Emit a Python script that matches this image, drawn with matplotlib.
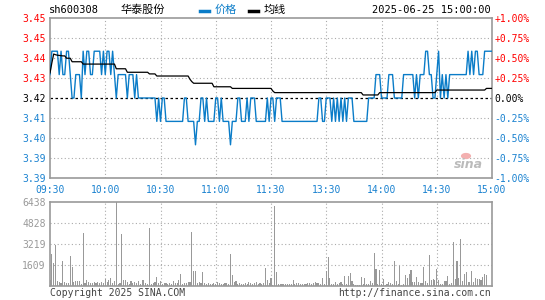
import matplotlib
matplotlib.use("Agg")
from matplotlib import pyplot as plt
import numpy as np

plt.rcParams['font.family'] = ['DejaVu Sans Mono', 'Noto Sans CJK SC']

# ---- data ----
code = "sh600308"
name = "华泰股份"
stamp = "2025-06-25 15:00:00"
pre_close = 3.42
time_labels = ["09:30", "10:00", "10:30", "11:00", "11:30", "13:30", "14:00", "14:30", "15:00"]
vol_ticks = [1609, 3219, 4828, 6438]

price = [
    3.43, 3.44, 3.44, 3.44, 3.44, 3.43, 3.44, 3.43, 3.43, 3.44,
    3.44, 3.43, 3.42, 3.42, 3.43, 3.43, 3.43, 3.42, 3.44, 3.43,
    3.44, 3.44, 3.43, 3.43, 3.44, 3.44, 3.44, 3.44, 3.43, 3.44,
    3.43, 3.44, 3.44, 3.43, 3.44, 3.43, 3.42, 3.43, 3.43, 3.43,
    3.43, 3.43, 3.42, 3.43, 3.43, 3.43, 3.42, 3.43, 3.42, 3.42,
    3.42, 3.42, 3.42, 3.42, 3.42, 3.42, 3.42, 3.42, 3.41, 3.42,
    3.41, 3.42, 3.42, 3.41, 3.41, 3.41, 3.41, 3.41, 3.41, 3.41,
    3.41, 3.41, 3.41, 3.42, 3.42, 3.41, 3.41, 3.41, 3.41, 3.40,
    3.41, 3.41, 3.42, 3.42, 3.41, 3.42, 3.41, 3.41, 3.41, 3.41,
    3.42, 3.42, 3.41, 3.42, 3.41, 3.41, 3.41, 3.41, 3.40, 3.41,
    3.41, 3.41, 3.42, 3.42, 3.41, 3.41, 3.41, 3.42, 3.41, 3.42,
    3.42, 3.42, 3.41, 3.41, 3.41, 3.41, 3.41, 3.41, 3.42, 3.41,
    3.42, 3.42, 3.41, 3.42, 3.42, 3.42, 3.41, 3.41, 3.41, 3.41,
    3.41, 3.41, 3.41, 3.41, 3.41, 3.41, 3.41, 3.41, 3.41, 3.41,
    3.41, 3.41, 3.41, 3.41, 3.41, 3.41, 3.42, 3.42, 3.41, 3.41,
    3.42, 3.42, 3.42, 3.41, 3.42, 3.41, 3.42, 3.41, 3.42, 3.41,
    3.42, 3.41, 3.42, 3.42, 3.42, 3.41, 3.41, 3.41, 3.41, 3.41,
    3.41, 3.41, 3.41, 3.42, 3.42, 3.42, 3.42, 3.43, 3.43, 3.43,
    3.42, 3.42, 3.42, 3.42, 3.43, 3.43, 3.43, 3.42, 3.42, 3.42,
    3.42, 3.42, 3.43, 3.43, 3.43, 3.43, 3.43, 3.43, 3.42, 3.43,
    3.42, 3.43, 3.43, 3.43, 3.44, 3.44, 3.43, 3.43, 3.42, 3.42,
    3.43, 3.44, 3.42, 3.43, 3.42, 3.43, 3.42, 3.43, 3.43, 3.43,
    3.43, 3.43, 3.43, 3.43, 3.43, 3.43, 3.43, 3.44, 3.43, 3.44,
    3.43, 3.44, 3.44, 3.43, 3.43, 3.43, 3.44, 3.44, 3.44, 3.44,
    3.44,
]

# average line, read as flat steps
avg = ([3.4307, 3.4350, 3.4388, 3.4385, 3.4383, 3.4382, 3.4381, 3.4380, 3.4380]
       + [3.4370] * 3 + [3.4355] * 6 + [3.4345] * 18 + [3.4325] * 6
       + [3.4310] * 12 + [3.4303] * 4 + [3.4294] * 18 + [3.4280, 3.4270]
       + [3.4263] * 11 + [3.4248] * 10 + [3.4241] * 22 + [3.4230]
       + [3.4223] * 48 + [3.4213] * 9 + [3.4223] * 31 + [3.4234] * 27
       + [3.4241] * 4)

volume = [
    458, 2443, 1781, 3130, 382, 305, 204, 1908, 331, 254,
    254, 2290, 1450, 305, 356, 407, 407, 153, 4070, 204,
    458, 305, 229, 254, 305, 204, 331, 204, 331, 254,
    509, 331, 458, 636, 254, 407, 6438, 153, 204, 3995,
    458, 458, 331, 178, 382, 204, 305, 229, 382, 153,
    458, 458, 204, 127, 4400, 178, 254, 305, 660, 254,
    382, 153, 229, 204, 153, 204, 153, 356, 204, 254,
    458, 916, 153, 204, 254, 331, 305, 4120, 1145, 1145,
    254, 305, 204, 1070, 204, 153, 229, 153, 153, 204,
    153, 331, 204, 153, 153, 254, 204, 153, 2443, 840,
    305, 382, 150, 200, 130, 180, 250, 150, 300, 200,
    160, 230, 280, 150, 200, 180, 250, 1375, 458, 200,
    640, 100, 6107, 1070, 150, 130, 120, 130, 140, 150,
    120, 130, 458, 150, 250, 200, 150, 160, 150, 150,
    230, 230, 150, 200, 280, 200, 200, 150, 610, 150,
    1170, 2214, 610, 150, 150, 280, 150, 200, 280, 150,
    763, 150, 763, 992, 350, 150, 100, 100, 100, 687,
    150, 610, 150, 150, 350, 200, 2519, 1298, 150, 1221,
    150, 560, 100, 150, 300, 200, 150, 1908, 350, 150,
    1527, 100, 150, 865, 610, 916, 1221, 300, 300, 712,
    300, 200, 200, 1450, 350, 200, 2366, 458, 509, 458,
    1298, 458, 150, 150, 382, 382, 763, 150, 254, 3359,
    534, 1908, 610, 3613, 407, 916, 1070, 300, 300, 1145,
    300, 610, 534, 534, 458, 687, 916, 840, 0, 0,
    0,
]

BLUE = '#0a7cc8'
LBLUE = '#1a82d0'
RED = '#ff0000'
GRID = '#aaaaaa'
FRAME = '#999999'
W, H = 545, 300


def fx(x):
    return x / W


def fy(y):
    return 1 - y / H


minutes = np.arange(len(price))
price = np.array(price)
avg = np.array(avg)
volume = np.array(volume)

fig = plt.figure(figsize=(W / 100, H / 100), dpi=100)
fig.patch.set_facecolor('white')

# main price panel
ax = fig.add_axes([fx(50), fy(178), (492 - 50) / W, 160 / H])
lo, hi = pre_close * 0.99, pre_close * 1.01
ax.set_xlim(0, 240)
ax.set_ylim(lo, hi)
steps = np.arange(-4, 5)
levels = pre_close * (1 + steps * 0.0025)

for k, lv in zip(steps, levels):
    if k in (-4, 4):
        continue
    if k == 0:
        ax.axhline(lv, color='black', lw=0.9, dashes=(2, 2), zorder=1)
    else:
        ax.axhline(lv, color=GRID, lw=0.8, dashes=(1, 2.2), zorder=1)
for m in range(30, 240, 30):
    ax.axvline(m, color=GRID, lw=0.8, dashes=(1, 2.2), zorder=1)

ax.plot(minutes, price, color=BLUE, lw=1.0, zorder=3)
ax.plot(minutes, avg, color='black', lw=0.9, zorder=4)

for s in ax.spines.values():
    s.set_color(FRAME)
    s.set_linewidth(1.2)

ax.set_yticks(levels)
ax.set_yticklabels([f"{v:.2f}" for v in levels])
for k, lab in zip(steps, ax.get_yticklabels()):
    lab.set_color(RED if k > 0 else ('black' if k == 0 else LBLUE))
ax.set_xticks(range(0, 241, 30))
ax.set_xticklabels(time_labels, color=LBLUE)
ax.tick_params(length=0, labelsize=7)
ax.tick_params(axis='y', pad=3)
ax.tick_params(axis='x', pad=5)

ax2 = ax.twinx()
ax2.set_ylim(-1, 1)
pct = steps * 0.25
ax2.set_yticks(pct)
ax2.set_yticklabels([("+" if p > 0 else "") + f"{p:.2f}%" for p in pct])
for p, lab in zip(pct, ax2.get_yticklabels()):
    lab.set_color(RED if p > 0 else ('black' if p == 0 else LBLUE))
ax2.tick_params(length=0, labelsize=7, pad=2)
for s in ax2.spines.values():
    s.set_visible(False)

# volume panel
vx = fig.add_axes([fx(50), fy(286), (492 - 50) / W, (286 - 201.5) / H])
vx.set_xlim(0, 240)
vx.set_ylim(0, vol_ticks[-1])
for t in vol_ticks[:-1]:
    vx.axhline(t, color=GRID, lw=0.8, dashes=(1, 2.2), zorder=1)
for m in range(30, 240, 30):
    vx.axvline(m, color=GRID, lw=0.8, dashes=(1, 2.2), zorder=1)
vx.bar(minutes, volume, width=0.6, color='#999999', zorder=2)
vx.set_xticks([])
vx.set_yticks(vol_ticks)
vx.set_yticklabels([str(t) for t in vol_ticks], color='#999999')
vx.tick_params(length=0, labelsize=7, pad=3)
for s in vx.spines.values():
    s.set_color(FRAME)
    s.set_linewidth(1.2)

# header
fig.text(fx(49), fy(10), code, fontsize=7.5, ha='left', va='center')
fig.text(fx(121), fy(10), name, fontsize=8, ha='left', va='center',
         family=['Noto Sans CJK SC', 'DejaVu Sans'])
fig.add_artist(plt.Line2D([fx(200), fx(209)], [fy(11), fy(11)], color=BLUE, lw=2.5))
fig.text(fx(215), fy(10), "价格", fontsize=8, color=BLUE, ha='left', va='center',
         family=['Noto Sans CJK SC', 'DejaVu Sans'])
fig.add_artist(plt.Line2D([fx(249), fx(258)], [fy(11), fy(11)], color='black', lw=2.5))
fig.text(fx(264), fy(10), "均线", fontsize=8, color='black', ha='left', va='center',
         family=['Noto Sans CJK SC', 'DejaVu Sans'])
fig.text(fx(491), fy(10), stamp, fontsize=7.5, ha='right', va='center')

# footer
fig.text(fx(50), fy(293), "Copyright 2025 SINA.COM", fontsize=7, color='#444444',
         ha='left', va='center')
fig.text(fx(491), fy(293), "http://finance.sina.com.cn", fontsize=7, color='#444444',
         ha='right', va='center')

# watermark
fig.text(fx(468), fy(165), "sina", fontsize=9, color='#bbbbbb', style='italic',
         weight='bold', ha='center', va='center', family='DejaVu Sans')
fig.add_artist(plt.Circle((fx(466), fy(156)), 0.008, color='#f3b0b0',
                          transform=fig.transFigure))

fig.savefig('out.png', dpi=100, facecolor='white')
